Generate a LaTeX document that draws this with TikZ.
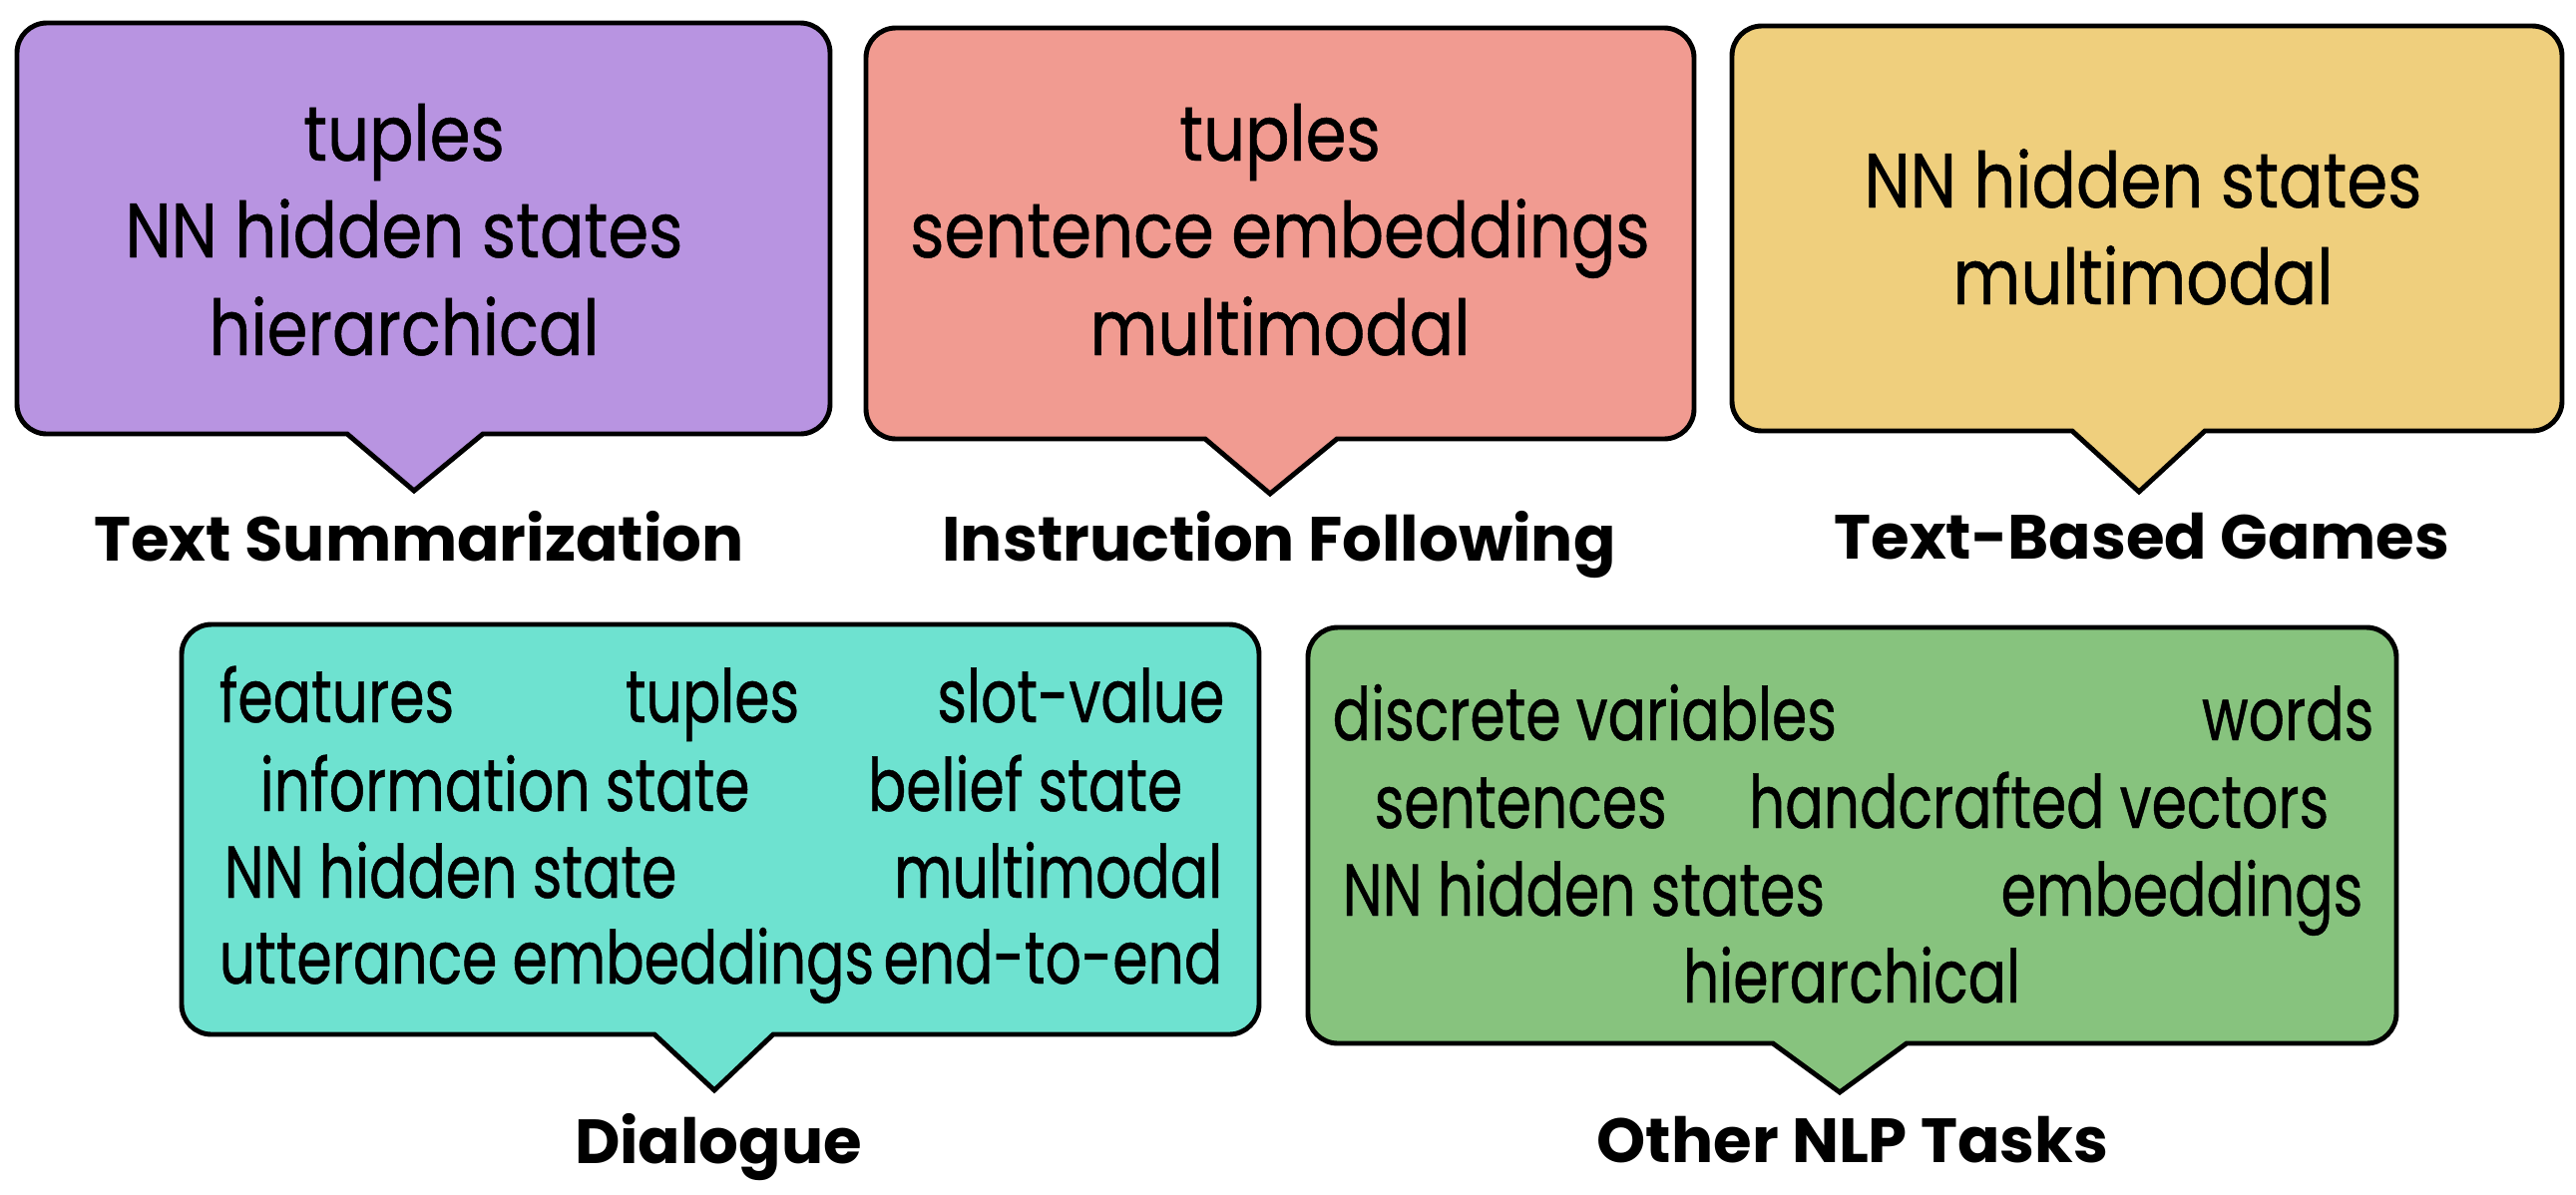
\documentclass[tikz,border=0pt]{standalone}
\usepackage{fontspec}
\setmainfont{Poppins}
\newfontfamily\topfont[FakeStretch=0.85,FakeBold=0.6]{Poppins}
\newfontfamily\lowfont[FakeStretch=0.77,FakeBold=0.6]{Poppins}
\newfontfamily\capfont[FakeStretch=1.0]{Poppins}[BoldFont={* Bold}]
\definecolor{sumcol}{RGB}{184,148,225}
\definecolor{inscol}{RGB}{241,155,145}
\definecolor{gamcol}{RGB}{239,207,125}
\definecolor{diacol}{RGB}{110,226,208}
\definecolor{othcol}{RGB}{135,195,126}
\begin{document}
\begin{tikzpicture}[x=1cm,y=-1cm,
  bubble/.style={draw=black,line width=1.4pt,line join=miter},
  big/.style={font=\topfont\fontsize{22}{26}\selectfont,inner sep=0pt,anchor=base},
  small/.style={font=\lowfont\fontsize{21}{25}\selectfont,inner sep=0pt},
  task/.style={font=\capfont\bfseries\fontsize{17.8}{21}\selectfont,inner sep=0pt,anchor=base}]
\useasboundingbox (0,0) rectangle (25.82,11.97);
% top row
\draw[bubble,fill=sumcol](3.48,4.35)[rounded corners=0.3cm]--(0.17,4.35)--(0.17,0.23)--(8.32,0.23)--(8.32,4.35)[sharp corners]--(4.84,4.35)--(4.15,4.92)--cycle;
\draw[bubble,fill=inscol](12.08,4.40)[rounded corners=0.3cm]--(8.68,4.40)--(8.68,0.28)--(16.98,0.28)--(16.98,4.40)[sharp corners]--(13.40,4.40)--(12.73,4.95)--cycle;
\draw[bubble,fill=gamcol](20.77,4.32)[rounded corners=0.3cm]--(17.36,4.32)--(17.36,0.26)--(25.68,0.26)--(25.68,4.32)[sharp corners]--(22.10,4.32)--(21.44,4.93)--cycle;
\node[big](sum1)at(4.05,1.61){tuples};
\node[big](sum2)at(4.05,2.58){NN hidden states};
\node[big](sum3)at(4.05,3.56){hierarchical};
\node[big](ins1)at(12.83,1.61){tuples};
\node[big](ins2)at(12.83,2.58){sentence embeddings};
\node[big](ins3)at(12.83,3.56){multimodal};
\node[big](gam1)at(21.48,2.08){NN hidden states};
\node[big](gam2)at(21.48,3.05){multimodal};
\node[task](sum)at(4.20,5.62){Text Summarization};
\node[task](ins)at(12.82,5.62){Instruction Following};
\node[task](gam)at(21.47,5.60){Text-Based Games};
% bottom row
\draw[bubble,fill=diacol](6.56,10.37)[rounded corners=0.3cm]--(1.82,10.37)--(1.82,6.26)--(12.62,6.26)--(12.62,10.37)[sharp corners]--(7.75,10.37)--(7.16,10.93)--cycle;
\draw[bubble,fill=othcol](17.77,10.46)[rounded corners=0.3cm]--(13.11,10.46)--(13.11,6.29)--(24.02,6.29)--(24.02,10.46)[sharp corners]--(19.11,10.46)--(18.44,10.95)--cycle;
\node[small,anchor=base west](dia1)at(2.19,7.24){features};
\node[small,anchor=base](dia2)at(7.14,7.24){tuples};
\node[small,anchor=base east](dia3)at(12.28,7.24){slot-value};
\node[small,anchor=base west](dia4)at(2.60,8.13){information state};
\node[small,anchor=base east](dia5)at(11.86,8.13){belief state};
\node[small,anchor=base west](dia6)at(2.24,9.00){NN hidden state};
\node[small,anchor=base east](dia7)at(12.26,9.00){multimodal};
\node[small,anchor=base west](dia8)at(2.19,9.86){utterance embeddings};
\node[small,anchor=base east](dia9)at(12.26,9.86){end-to-end};
\node[small,anchor=base west](oth1)at(13.35,7.42){discrete variables};
\node[small,anchor=base east](oth2)at(23.80,7.42){words};
\node[small,anchor=base west](oth3)at(13.77,8.30){sentences};
\node[small,anchor=base east](oth4)at(23.35,8.30){handcrafted vectors};
\node[small,anchor=base west](oth5)at(13.45,9.18){NN hidden states};
\node[small,anchor=base east](oth6)at(23.69,9.18){embeddings};
\node[small,anchor=base](oth7)at(18.56,10.05){hierarchical};
\node[task](dia)at(7.20,11.66){Dialogue};
\node[task](oth)at(18.57,11.65){Other NLP Tasks};
\end{tikzpicture}
\end{document}
